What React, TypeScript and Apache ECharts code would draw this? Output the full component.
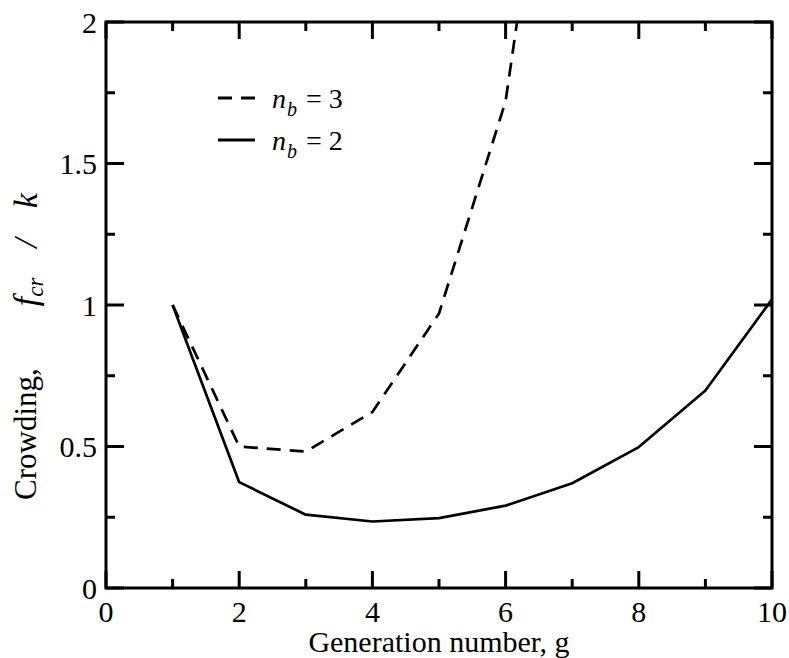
import React, { useEffect, useRef } from "react";
import * as echarts from "echarts";

const generations = [1, 2, 3, 4, 5, 6, 7, 8, 9, 10];
const crowdingNb2 = [1.0, 0.374, 0.259, 0.235, 0.247, 0.291, 0.37, 0.498, 0.698, 1.02];
const crowdingNb3 = [1.0, 0.5, 0.482, 0.622, 0.97, 1.72, 3.35];
const seriesNames = ["n_b = 3", "n_b = 2"];
const xAxisTitle = "Generation number, g";
const xMajorTicks = [0, 2, 4, 6, 8, 10];
const xMinorTicks = [1, 3, 5, 7, 9];
const yMajorTicks = [0, 0.5, 1, 1.5, 2];
const yMinorTicks = [0.25, 0.75, 1.25, 1.75];

const FONT = "Liberation Serif";

export default function App() {
  const ref = useRef<HTMLDivElement>(null);
  useEffect(() => {
    if (!ref.current) return;
    const chart = echarts.init(ref.current, undefined, { renderer: "svg" });
    const tickData = [
      ...xMajorTicks.map((v) => [v, 0, 17]),
      ...xMinorTicks.map((v) => [v, 0, 9]),
      ...yMajorTicks.map((v) => [v, 1, 18]),
      ...yMinorTicks.map((v) => [v, 1, 9]),
    ];
    const option: any = {
      animation: false,
      backgroundColor: "#fff",
      grid: {
        left: 106,
        right: 17,
        top: 22,
        bottom: 70,
        containLabel: false,
        outerBoundsMode: "none",
        show: true,
        borderColor: "#000",
        borderWidth: 3,
        backgroundColor: "transparent",
      },
      legend: {
        data: [
          { name: seriesNames[0], icon: "path://M0,0h14v3h-14z M23,0h14v3h-14z" },
          { name: seriesNames[1], icon: "path://M0,0h37v3h-37z" },
        ],
        orient: "vertical",
        left: 213,
        top: 72,
        itemWidth: 37,
        itemHeight: 3,
        itemGap: 0,
        selectedMode: false,
        formatter: (name: string) =>
          name === seriesNames[0] ? "{i|n}{s|b}{t| = 3}" : "{i|n}{s|b}{t| = 2}",
        textStyle: {
          padding: [0, 0, 0, 12],
          rich: {
            i: { fontFamily: FONT, fontStyle: "italic", fontSize: 28, color: "#000", lineHeight: 30 },
            s: { fontFamily: FONT, fontStyle: "italic", fontSize: 20, color: "#000", lineHeight: 20, padding: [22, 2, 0, 1] },
            t: { fontFamily: FONT, fontSize: 28, color: "#000", lineHeight: 30 },
          },
        },
      },
      xAxis: {
        type: "value",
        position: "bottom",
        min: 0,
        max: 10,
        interval: 2,
        axisLine: { show: false, onZero: false },
        axisTick: { show: false },
        splitLine: { show: false },
        axisLabel: { show: true, margin: 8, color: "#000", fontFamily: FONT, fontSize: 30 },
      },
      yAxis: {
        type: "value",
        position: "left",
        min: 0,
        max: 2,
        interval: 0.5,
        axisLine: { show: false, onZero: false },
        axisTick: { show: false },
        splitLine: { show: false },
        axisLabel: { show: true, margin: 9, color: "#000", fontFamily: FONT, fontSize: 30 },
      },
      graphic: [
        {
          type: "text",
          x: 439,
          y: 641,
          style: {
            text: xAxisTitle,
            align: "center",
            verticalAlign: "middle",
            fontFamily: FONT,
            fontSize: 30,
            fill: "#000",
          },
        },
        {
          type: "text",
          x: 25,
          y: 500,
          rotation: Math.PI / 2,
          style: {
            text: "{a|Crowding,}{g| }{f|f}{s|cr}{h| }{f|/}{k| }{f|k}",
            align: "left",
            verticalAlign: "middle",
            rich: {
              a: { fontFamily: FONT, fontSize: 31, fill: "#000", lineHeight: 34 },
              g: { fontFamily: FONT, fontSize: 30, width: 62, lineHeight: 34 },
              h: { fontFamily: FONT, fontSize: 30, width: 30, lineHeight: 34 },
              k: { fontFamily: FONT, fontSize: 30, width: 30, lineHeight: 34 },
              f: { fontFamily: FONT, fontStyle: "italic", fontSize: 34, fill: "#000", lineHeight: 34 },
              s: { fontFamily: FONT, fontStyle: "italic", fontSize: 23, fill: "#000", lineHeight: 23, padding: [20, 0, 0, 0] },
            },
          },
        },
      ],
      series: [
        {
          name: seriesNames[0],
          type: "line",
          data: crowdingNb3.map((v, i) => [generations[i], v]),
          showSymbol: false,
          symbol: "none",
          clip: true,
          lineStyle: { color: "#000", width: 2.7, type: [14, 9] },
          itemStyle: { color: "#000" },
        },
        {
          name: seriesNames[1],
          type: "line",
          data: crowdingNb2.map((v, i) => [generations[i], v]),
          showSymbol: false,
          symbol: "none",
          clip: true,
          lineStyle: { color: "#000", width: 2.7, type: "solid" },
          itemStyle: { color: "#000" },
        },
        {
          name: "ticks",
          type: "custom",
          silent: true,
          clip: false,
          data: tickData,
          encode: { x: 0 },
          renderItem: (_params: any, api: any) => {
            const v = api.value(0);
            const kind = api.value(1);
            const len = api.value(2);
            const style = { stroke: "#000", lineWidth: 3 };
            if (kind === 0) {
              const b = api.coord([v, 0]);
              const t = api.coord([v, 2]);
              return {
                type: "group",
                children: [
                  { type: "line", shape: { x1: b[0], y1: b[1], x2: b[0], y2: b[1] - len }, style },
                  { type: "line", shape: { x1: t[0], y1: t[1], x2: t[0], y2: t[1] + len }, style },
                ],
              };
            }
            const l = api.coord([0, v]);
            const r = api.coord([10, v]);
            return {
              type: "group",
              children: [
                { type: "line", shape: { x1: l[0], y1: l[1], x2: l[0] + len, y2: l[1] }, style },
                { type: "line", shape: { x1: r[0], y1: r[1], x2: r[0] - len, y2: r[1] }, style },
              ],
            };
          },
        },
      ],
    };
    chart.setOption(option);
    return () => chart.dispose();
  }, []);
  return (
    <div
      ref={ref}
      style={{ position: "fixed", left: 0, top: 0, width: 789, height: 658, background: "#fff" }}
    />
  );
}
